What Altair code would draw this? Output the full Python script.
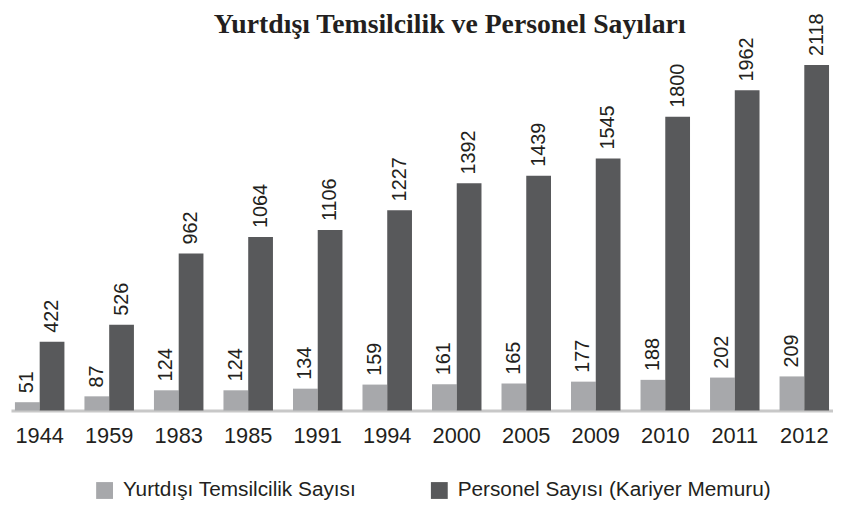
import altair as alt
import pandas as pd

years = ["1944", "1959", "1983", "1985", "1991", "1994", "2000", "2005", "2009", "2010", "2011", "2012"]
temsilcilik = [51, 87, 124, 124, 134, 159, 161, 165, 177, 188, 202, 209]
personel = [422, 526, 962, 1064, 1106, 1227, 1392, 1439, 1545, 1800, 1962, 2118]
series = ["Yurtdışı Temsilcilik Sayısı", "Personel Sayısı (Kariyer Memuru)"]
colors = ["#a7a8ab", "#58595b"]

rows = []
for i, y in enumerate(years):
    rows.append({"year": y, "series": series[0], "value": temsilcilik[i]})
    rows.append({"year": y, "series": series[1], "value": personel[i]})
df = pd.DataFrame(rows)

FONT = "Liberation Sans Narrow, Liberation Sans, Arial"

x = alt.X("year:N", sort=years, title=None,
          scale=alt.Scale(paddingInner=0.288, paddingOuter=0.057),
          axis=alt.Axis(labelAngle=0, ticks=False, domainColor="#c8c8c8", domainWidth=3,
                        labelFontSize=22, labelFont=FONT, labelColor="#231f20", labelPadding=15))
xo = alt.XOffset("series:N", sort=series)
y = alt.Y("value:Q", axis=None, scale=alt.Scale(domain=[0, 2118], nice=False))

bars = alt.Chart(df).mark_bar().encode(
    x=x, xOffset=xo, y=y,
    color=alt.Color("series:N", sort=series, scale=alt.Scale(domain=series, range=colors),
                    legend=alt.Legend(title=None, orient="none", legendX=84, legendY=419,
                                      direction="horizontal", symbolType="square", symbolSize=289,
                                      symbolStrokeWidth=0, labelFontSize=21, labelFont=FONT,
                                      labelColor="#231f20", columnPadding=73, labelOffset=8,
                                      labelLimit=400))
)

labels = alt.Chart(df).mark_text(angle=270, align="left", baseline="middle", dx=9,
                                 fontSize=20, font=FONT, color="#231f20").encode(
    x=x, xOffset=xo, y=y, text="value:Q"
)

chart = (bars + labels).properties(
    width=830, height=349,
    autosize=alt.AutoSizeParams(type="none"),
    padding={"left": 3, "top": 55, "right": 0, "bottom": 98},
    title=alt.TitleParams("Yurtdışı Temsilcilik ve Personel Sayıları", font="Liberation Serif",
                          fontSize=28, fontWeight="bold", color="#231f20", dx=28, offset=-25.5,
                          anchor="middle"),
).configure_view(stroke=None)

chart.save("out.html", embed_options={"renderer": "svg", "actions": False})
